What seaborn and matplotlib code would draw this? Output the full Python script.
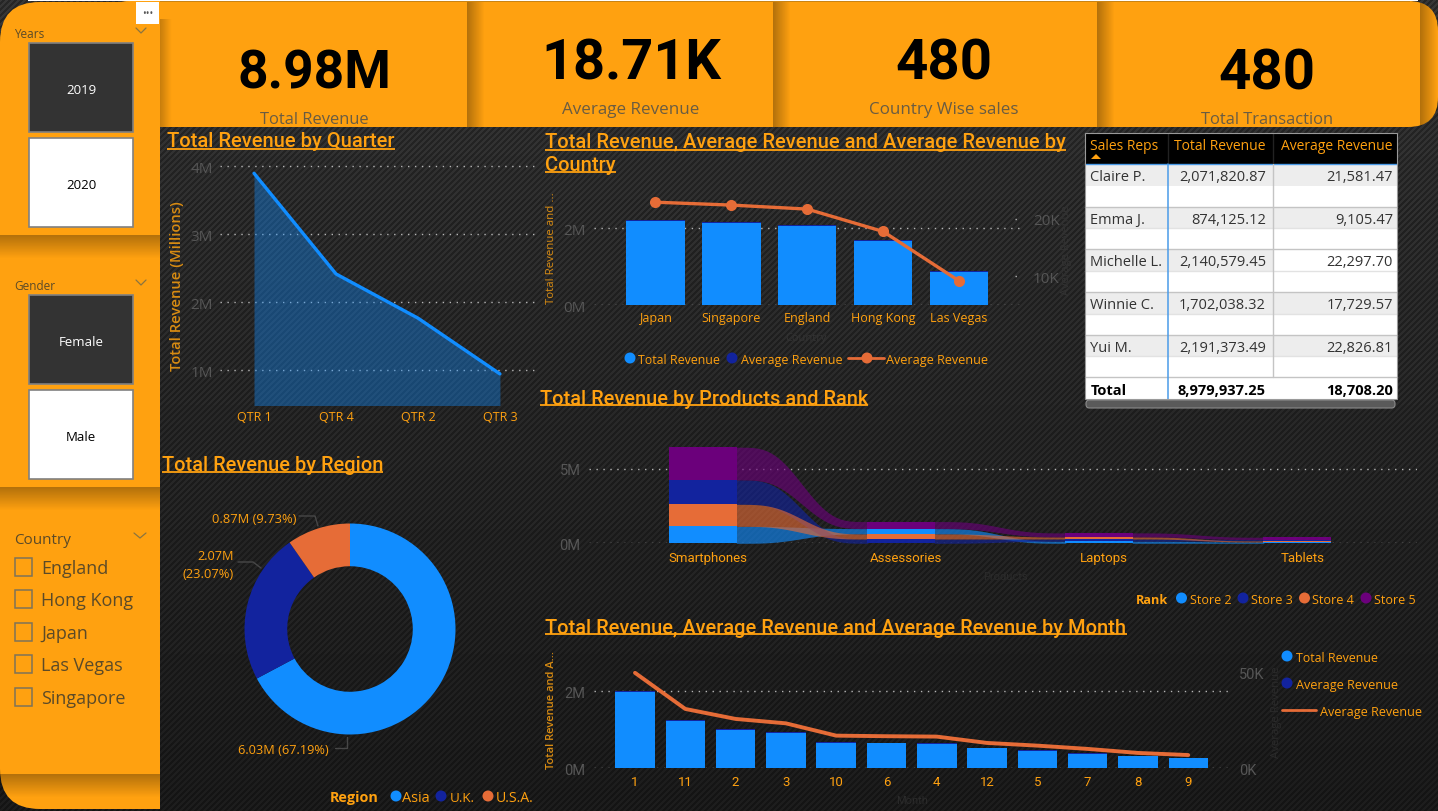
import numpy as np
import seaborn as sns
import matplotlib
matplotlib.use("Agg")
import matplotlib.pyplot as plt
from matplotlib.patches import Rectangle, FancyBboxPatch, Circle

# data
quarters = ["QTR 1", "QTR 4", "QTR 2", "QTR 3"]
quarter_rev = [3.90, 2.42, 1.77, 0.95]

countries = ["Japan", "Singapore", "England", "Hong Kong", "Las Vegas"]
country_rev = [2.20, 2.13, 2.06, 1.68, 0.87]
country_avg = [22.9, 22.4, 21.7, 17.8, 9.2]

regions = ["Asia", "U.K.", "U.S.A."]
region_rev = [6.03, 2.07, 0.87]

products = ["Smartphones", "Assessories", "Laptops", "Tablets"]
stores = ["Store 2", "Store 3", "Store 4", "Store 5"]
store2 = [1.14, 0.36, 0.14, 0.09]
store3 = [1.64, 0.29, 0.15, 0.09]
store4 = [1.48, 0.34, 0.14, 0.07]
store5 = [2.20, 0.47, 0.27, 0.16]
rank_order = [[0, 2, 1, 3], [1, 2, 0, 3], [0, 1, 2, 3], [0, 2, 1, 3]]

months = ["1", "11", "2", "3", "10", "6", "4", "12", "5", "7", "8", "9"]
month_rev = [1.97, 1.22, 1.00, 0.91, 0.667, 0.65, 0.634, 0.524, 0.456, 0.38, 0.312, 0.263]
month_avg = [49.7, 30.9, 25.7, 23.4, 17.0, 16.7, 16.5, 13.2, 11.8, 10.1, 8.0, 6.9]

reps = ["Claire P.", "Emma J.", "Michelle L.", "Winnie C.", "Yui M."]
rep_total = ["2,071,820.87", "874,125.12", "2,140,579.45", "1,702,038.32", "2,191,373.49"]
rep_avg = ["21,581.47", "9,105.47", "22,297.70", "17,729.57", "22,826.81"]

kpi_values = ["8.98M", "18.71K", "480", "480"]
kpi_names = ["Total Revenue", "Average Revenue", "Country Wise sales", "Total Transaction"]
country_filter = ["England", "Hong Kong", "Japan", "Las Vegas", "Singapore"]

BLUE, NAVY, RUST, PURPLE = "#118DFF", "#12239E", "#E66C37", "#6B007B"
ORANGE = "#FFA110"
GHOST = "#333333"
TICK = "#565656"
W, H = 1438, 812

sns.set_theme(style="dark", rc={"axes.facecolor": "none", "figure.facecolor": "#1a1a1a"})
plt.rcParams["font.family"] = ["Open Sans", "DejaVu Sans"]

fig = plt.figure(figsize=(W / 100, H / 100), dpi=100)
page = fig.add_axes([0, 0, 1, 1], zorder=0)
page.set_axis_off()


def px_axes(left, top, right, bottom):
    a = fig.add_axes([left / W, 1 - bottom / H, (right - left) / W, (bottom - top) / H], zorder=2)
    a.patch.set_alpha(0)
    sns.despine(ax=a, left=True, bottom=True)
    a.set(xlabel="", ylabel="")
    return a


def label(x, y, s, size=10, color=ORANGE, ha="left", va="center", weight="normal", family=None, rotation=0, width=None):
    # centred text sits about 1.5px high in this font
    shift = 0 if rotation else 1.5
    t = page.text(x, y + shift, s, fontsize=size, color=color, ha=ha, va=va, fontweight=weight,
                  family=family or "Open Sans", rotation=rotation, rotation_mode="anchor", zorder=5)
    if width:  # scale the font so the text takes up the same pixels as the original
        box = t.get_window_extent(fig.canvas.get_renderer())
        t.set_fontsize(size * width / max(box.width, box.height))
    return t


def title(x0, x1, y, line_y, s):
    label(x0, y, s, size=14, family="Roboto", weight="medium", width=x1 - x0)
    page.plot([x0, x1], [line_y, line_y], color=ORANGE, lw=1.3, solid_capstyle="butt", zorder=5)


def shade(x0, x1, y0, y1, horizontal=True, strength=0.3, clip=None):
    ramp = np.linspace(strength, 0, 24)
    rgba = np.zeros((1, 24, 4)) if horizontal else np.zeros((24, 1, 4))
    rgba[..., 3] = ramp.reshape(1, -1) if horizontal else ramp.reshape(-1, 1)
    im = page.imshow(rgba, extent=(x0, x1, y1, y0), aspect="auto", zorder=3, interpolation="bilinear")
    if clip is not None:
        im.set_clip_path(clip)


def dot(x, y, c, r=5.5):
    page.add_patch(Circle((x, y), r, color=c, lw=0, zorder=5))


def style_axis(a):
    a.grid(axis="y", color="#b5b5b5", lw=1, linestyle=(0, (1, 4)))
    a.grid(axis="x", visible=False)
    a.set_axisbelow(True)
    a.set(xlabel="", ylabel="")


# ----- background: diagonal carbon stripes getting darker downwards
yy, xx = np.mgrid[0:H, 0:W]
fade = yy / H
stripe = ((xx + yy) % 6 < 3).astype(float)
bg = (0.15 - 0.07 * fade) + stripe * (0.065 - 0.032 * fade)
page.imshow(bg, cmap="gray", vmin=0, vmax=1, extent=(0, W, H, 0), aspect="auto", zorder=0, interpolation="nearest")

# ----- orange frame
page.add_patch(Rectangle((28, 0), 1390, 2, color="white", lw=0, zorder=1))
strip = FancyBboxPatch((100, 2), W - 100, 126, boxstyle="round,pad=0,rounding_size=30", fc=ORANGE, ec="none", zorder=1)
page.add_patch(strip)
page.add_patch(Rectangle((160, 2), 1250, 1.2, color="#C98415", lw=0, zorder=2))
side = FancyBboxPatch((0, 3), 160, 807, boxstyle="round,pad=0,rounding_size=40", fc=ORANGE, ec="none", zorder=1.5)
page.add_patch(side)
page.add_patch(Rectangle((110, 3), 50, 807, color=ORANGE, lw=0, zorder=1.5))

for x0 in [467, 773, 1097]:
    shade(x0, x0 + 18, 3, 128)
shade(1420, 1438, 3, 128, clip=strip)
shade(160, 172, 20, 128, strength=0.22)
for y0 in [236, 488, 775]:
    shade(0, 160, y0, y0 + 24, horizontal=False)

# more options box
page.add_patch(Rectangle((136, 3), 23, 22, color="white", lw=0, zorder=4))
page.text(147.5, 14.5, "•••", fontsize=7, color="#555555", ha="center", va="center", zorder=5)

# ----- KPI cards
kpi_x = [314, 631, 944, 1267]
kpi_y = [72.5, 62.5, 62.5, 72.5]
kpi_w = [154, 180, 97, 97]
name_y = [118, 109, 109, 118]
name_w = [109, 137, 149, 132]
for i in range(4):
    label(kpi_x[i], kpi_y[i], kpi_values[i], size=45, color="black", ha="center", weight="bold",
          family="Roboto", width=kpi_w[i])
    label(kpi_x[i], name_y[i], kpi_names[i], size=13, color="#6a5c42", ha="center", width=name_w[i])

# ----- slicers
slicer_text = "#5b4a28"


def chevron(x, y, size=5):
    page.plot([x - size, x, x + size], [y - 2, y + 3, y - 2], color="#8a7440", lw=0.9, zorder=5)


def button(top, s, dark):
    fc = "#333333" if dark else "white"
    page.add_patch(Rectangle((29, top), 104, 89, fc=fc, ec="#808080", lw=1.2, zorder=2))
    page.text(81, top + 46.5, s, fontsize=9.5, color="white" if dark else "black", ha="center", va="center", zorder=3)


label(14, 33, "Years", size=8.5, color=slicer_text)
chevron(141, 31)
button(44, "2019", True)
button(139, "2020", False)
label(14, 285, "Gender", size=8.5, color=slicer_text)
chevron(141, 283)
button(296, "Female", True)
button(391, "Male", False)
label(14, 539, "Country", size=11, color=slicer_text)
chevron(140, 536, 6)
for name, cy in zip(country_filter, [568, 600, 633, 665, 698]):
    page.add_patch(Rectangle((14.5, cy - 9), 17.5, 17.5, fc="none", ec="#7d7359", lw=1.1, zorder=2))
    label(41, cy, name, size=13, color=slicer_text)

# ----- total revenue by quarter
title(167, 395, 140, 150, "Total Revenue by Quarter")
ax = px_axes(220, 160, 536, 405.5)
q_pos = np.arange(len(quarters))
ax.fill_between(q_pos, 0, quarter_rev, color=BLUE, alpha=0.38, lw=0)
sns.lineplot(x=q_pos, y=quarter_rev, color=BLUE, lw=2.4, ax=ax)
ax.set_xlim(-0.415, 3.44)
ax.set_ylim(0.5, 4.11)
ax.set_xticks(q_pos, quarters, fontsize=9, color=ORANGE)
ax.set_yticks([1, 2, 3, 4], ["1M", "2M", "3M", "4M"], fontsize=11, color=TICK)
ax.tick_params(axis="x", length=0, pad=4)
ax.tick_params(axis="y", length=0, pad=5)
style_axis(ax)
label(177, 286, "Total Revenue (Millions)", size=10, color="#D98C12", ha="center", weight="semibold",
      rotation=90, width=168)

# ----- revenue by country
title(545, 1066, 141, 150.5, "Total Revenue, Average Revenue and Average Revenue by")
title(545, 616, 164, 172.5, "Country")
ax = px_axes(594, 190, 1022, 306)
sns.barplot(x=countries, y=np.array(country_rev), order=countries, color=BLUE, saturation=1, width=0.77,
            linewidth=0, ax=ax)
sns.barplot(x=countries, y=np.array(country_avg) / 1000, bottom=country_rev, order=countries, color=NAVY,
            saturation=1, width=0.77, linewidth=0, ax=ax)
ax.set_xlim(-0.81, 4.83)
ax.set_ylim(0, 3.025)
ax.set_xticks(range(5), countries, fontsize=9, color=ORANGE)
ax.set_yticks([0, 2], ["0M", "2M"], fontsize=11, color=TICK)
ax.tick_params(axis="x", length=0, pad=4)
ax.tick_params(axis="y", length=0, pad=6)
style_axis(ax)
ax2 = ax.twinx()
ax2.patch.set_alpha(0)
sns.despine(ax=ax2, left=True, bottom=True, right=True)
sns.lineplot(x=np.arange(5), y=country_avg, color=RUST, lw=2.4, marker="o", markersize=8, markeredgewidth=0, ax=ax2)
ax2.hlines([10, 20], 4.74, 4.83, color="#b5b5b5", lw=1, linestyle=(0, (1, 4)))
ax2.set_ylim(5.0, 25.2)
ax2.set_yticks([10, 20], ["10K", "20K"], fontsize=11, color=TICK)
ax2.tick_params(length=0, pad=8)
ax2.grid(False)
ax2.set_ylabel("")
label(551, 248, "Total Revenue and ...", size=8, color="#D98C12", ha="center", rotation=90, width=112)
label(806, 337, "Country", size=8, color=GHOST, ha="center")
label(1067, 250, "Average Revenue", size=8, color=GHOST, ha="center", rotation=90)
dot(630, 359, BLUE)
label(638, 359, "Total Revenue", size=9.5, width=83)
dot(732, 359, NAVY)
label(741, 359, "Average Revenue", size=9.5, width=102)
page.plot([848, 884], [359, 359], color=RUST, lw=2, zorder=4)
dot(867, 359, RUST)
label(886, 359, "Average Revenue", size=9.5, width=103)

# ----- sales reps table
tl, tr = 1085, 1397
col1, col2 = 1167.5, 1272.5
edges = [165, 186.7, 207.7, 229.3, 250.3, 272, 293.3, 314.7, 336, 357.3, 378.3, 400]
page.add_patch(Rectangle((tl, 134), tr - tl, 31, color="black", lw=0, zorder=2))
page.add_patch(Rectangle((tl, 165), tr - tl, 235, color="white", lw=0, zorder=2))
for i in range(0, 10, 2):
    right = col2 if i == 4 else tr  # Michelle's row is only shaded up to the last column
    page.add_patch(Rectangle((tl, edges[i]), right - tl, edges[i + 1] - edges[i], color="#EDEDED", lw=0, zorder=2))
for i in range(2, 11):
    page.plot([tl, tr], [edges[i], edges[i]], color="#c4c4c4" if i % 2 == 0 else "#e2e2e2", lw=1, zorder=3)
page.plot([tl, tr], [165, 165], color="#4a9be8", lw=1, zorder=3)
page.plot([col1, col1], [134, 164], color="#222222", lw=1, zorder=3)
page.plot([col2, col2], [134, 164], color="#222222", lw=1, zorder=3)
page.plot([col1, col1], [165, 400], color="#4a9be8", lw=1.1, zorder=3)
page.plot([col2, col2], [165, 378], color="#c4c4c4", lw=1, zorder=3)
page.add_patch(Rectangle((tl, 134), tr - tl, 266, fc="none", ec="#9a9a9a", lw=0.8, zorder=3))
for s, x, ha in [("Sales Reps", 1090.5, "left"), ("Total Revenue", 1265.5, "right"), ("Average Revenue", 1392.5, "right")]:
    page.text(x, 147, s, fontsize=10, color=ORANGE, ha=ha, va="center", zorder=4)
page.fill([1091, 1101, 1096], [160, 160, 155], color=ORANGE, zorder=4, lw=0)
for i in range(5):
    cy = edges[2 * i] + 12.5
    page.text(1090.5, cy, reps[i], fontsize=10.5, color="#333333", va="center", zorder=4)
    page.text(1266, cy, rep_total[i], fontsize=10.5, color="#333333", ha="right", va="center", zorder=4)
    page.text(1393, cy, rep_avg[i], fontsize=10.5, color="#333333", ha="right", va="center", zorder=4)
page.text(1090.5, 391.5, "Total", fontsize=10.5, color="black", weight="bold", va="center", zorder=4)
page.text(1266, 391.5, "8,979,937.25", fontsize=10.5, color="black", weight="bold", ha="right", va="center", zorder=4)
page.text(1393, 391.5, "18,708.20", fontsize=10.5, color="black", weight="bold", ha="right", va="center", zorder=4)
page.add_patch(FancyBboxPatch((1086, 401), 309, 8, boxstyle="round,pad=0,rounding_size=3.5", fc="#5a5a5a",
                              ec="#8a8a8a", lw=0.8, zorder=2))

# ----- ribbon chart by product
title(540, 868, 398, 406, "Total Revenue by Products and Rank")
ax = px_axes(589, 440, 1417, 544.3)
store_vals = np.array([store2, store3, store4, store5])
store_cols = [BLUE, NAVY, RUST, PURPLE]
low = np.zeros_like(store_vals)
for c, order in enumerate(rank_order):
    base = 0.0
    for s in order:
        low[s, c] = base
        base += store_vals[s, c]
band = 0.348
overlap = 0.006  # ribbons run slightly under the solid blocks so no seam shows
t = np.linspace(0, 1, 120)
ease = t * t * (3 - 2 * t)
ease = ease * ease * (3 - 2 * ease)
for s in range(4):
    sns.barplot(x=products, y=store_vals[s], bottom=low[s], order=products, color=store_cols[s], saturation=1,
                width=band, linewidth=0, ax=ax, zorder=3)
    for c in range(3):
        xs = c + band / 2 - overlap + t * (1 - band + 2 * overlap)
        lo = low[s, c] + (low[s, c + 1] - low[s, c]) * ease
        top0, top1 = low[s, c] + store_vals[s, c], low[s, c + 1] + store_vals[s, c + 1]
        ax.fill_between(xs, lo, top0 + (top1 - top0) * ease, color=store_cols[s], alpha=0.62, lw=0, zorder=2)
ax.set_xlim(-0.576, 3.606)
ax.set_ylim(0, 7.01)
ax.set_xticks(np.arange(4) + 0.027, products, fontsize=9.5, color=ORANGE, family="Roboto")
ax.set_yticks([0, 5], ["0M", "5M"], fontsize=10.5, color=TICK, family="Roboto")
ax.tick_params(axis="x", length=0, pad=5.5)
ax.tick_params(axis="y", length=0, pad=6)
style_axis(ax)
label(1005, 576, "Products", size=8, color="#2b2b2b", ha="center", family="Roboto")
label(1135.5, 599, "Rank", size=10, weight="bold", width=32)
for name, c, dx, tx, w in zip(stores, store_cols, [1181.5, 1243, 1304.5, 1366], [1190, 1251, 1312.5, 1374.5], [42, 42, 42, 42]):
    dot(dx, 599, c)
    label(tx, 599, name, size=9.5, width=w)

# ----- revenue by region donut
title(162, 383, 464, 473, "Total Revenue by Region")
ax = px_axes(244.5, 524.5, 455.5, 735.5)
ax.pie(region_rev, colors=[BLUE, NAVY, RUST], startangle=90, counterclock=False, radius=1,
       wedgeprops={"width": 0.405, "lw": 0})
ax.set_xlim(-1, 1)
ax.set_ylim(-1, 1)
leader = "#474747"
page.plot([299, 315, 318], [517, 517, 527], color=leader, lw=1, zorder=4)
page.plot([238, 253, 261], [563, 563, 569], color=leader, lw=1, zorder=4)
page.plot([335, 347, 347], [749, 749, 738], color=leader, lw=1, zorder=4)
label(296, 518, "0.87M (9.73%)", size=9.5, ha="right", width=84)
label(234, 555, "2.07M", size=9.5, ha="right", width=37)
label(234, 573, "(23.07%)", size=9.5, ha="right", width=51)
label(329, 749, "6.03M (67.19%)", size=9.5, ha="right", width=91)
label(330, 797, "Region", size=10, weight="bold", width=49)
for name, c, dx, tx, w in zip(regions, [BLUE, NAVY, RUST], [396, 441, 488], [402, 450, 496], [28, 25, 38]):
    dot(dx, 797, c)
    label(tx, 797, name, size=10, width=w)

# ----- revenue by month
title(545, 1127, 627, 635, "Total Revenue, Average Revenue and Average Revenue by Month")
ax = px_axes(594, 640, 1232, 769.3)
sns.barplot(x=months, y=np.array(month_rev), order=months, color=BLUE, saturation=1, width=0.785, linewidth=0, ax=ax)
sns.barplot(x=months, y=np.array(month_avg) / 1000, bottom=month_rev, order=months, color=NAVY, saturation=1,
            width=0.785, linewidth=0, ax=ax)
ax.set_xlim(-0.815, 11.87)
ax.set_ylim(0, 3.36)
ax.set_xticks(range(12), months, fontsize=9.5, color=ORANGE, family="Roboto")
ax.set_yticks([0, 2], ["0M", "2M"], fontsize=10.5, color=TICK, family="Roboto")
ax.tick_params(axis="x", length=0, pad=4.5)
ax.tick_params(axis="y", length=0, pad=6)
style_axis(ax)
ax2 = ax.twinx()
ax2.patch.set_alpha(0)
sns.despine(ax=ax2, left=True, bottom=True, right=True)
sns.lineplot(x=np.arange(12), y=month_avg, color=RUST, lw=2.8, ax=ax2)
ax2.set_ylim(0, 67.3)
ax2.set_yticks([0, 50], ["0K", "50K"], fontsize=10.5, color=TICK, family="Roboto")
ax2.tick_params(length=0, pad=5)
ax2.grid(False)
ax2.set_ylabel("")
label(551, 710, "Total Revenue and A...", size=8, color="#D98C12", ha="center", rotation=90, weight="semibold", width=118)
label(912, 800, "Month", size=8, color="#2b2b2b", ha="center", family="Roboto")
label(1276, 712, "Average Revenue", size=8, color="#2b2b2b", ha="center", rotation=90, width=92)
dot(1287, 657, BLUE)
label(1296, 657, "Total Revenue", size=9.5, width=83)
dot(1287, 684, NAVY)
label(1296, 684, "Average Revenue", size=9.5, width=103)
page.plot([1282, 1316], [711, 711], color=RUST, lw=2, zorder=4)
label(1320, 711, "Average Revenue", size=9.5, width=103)

page.set_xlim(0, W)
page.set_ylim(H, 0)
fig.savefig("out.png", dpi=100)
